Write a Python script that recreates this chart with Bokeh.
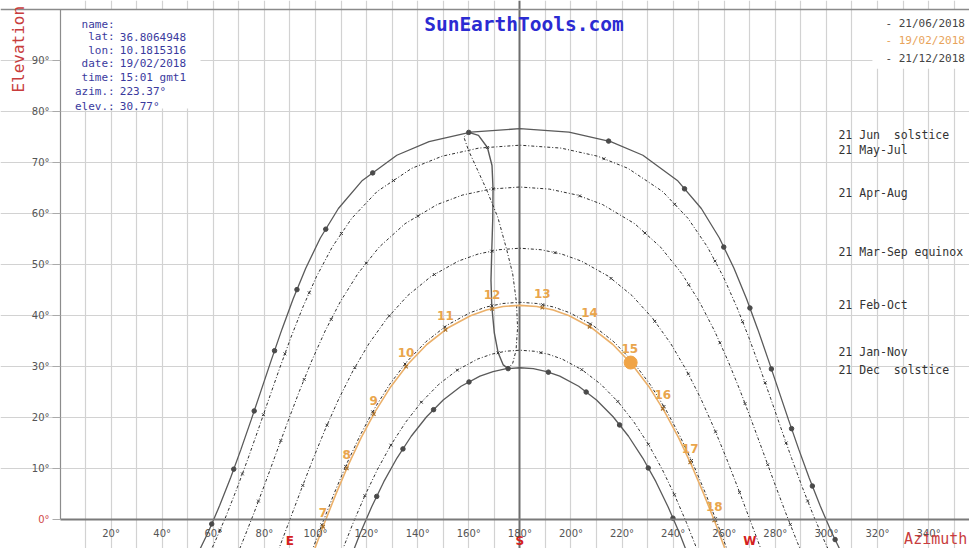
from bokeh.plotting import figure
from bokeh.models import (Range1d, FixedTicker, Label, BoxAnnotation, ColumnDataSource, Grid)
from bokeh.core.properties import value
from bokeh.embed import file_html
from bokeh.resources import INLINE
import math

# ---------------- data (azimuth deg, elevation deg) ----------------
jun_az = [53.25, 58.04, 62.53, 66.78, 70.86, 74.83, 78.76, 82.74, 86.86, 91.28, 96.19, 101.90, 108.97, 118.35, 131.84, 144.45, 160.77, 180.00,
          199.23, 215.55, 228.16, 241.65, 251.03, 258.10, 263.81, 268.72, 273.14, 277.26, 281.24, 285.17, 289.14, 293.22, 297.47, 301.96, 306.75]
jun_el = [-7.41, -2.45, 2.77, 8.19, 13.79, 19.53, 25.37, 31.30, 37.27, 43.27, 49.27, 55.19, 60.97, 66.48, 71.42, 74.10, 75.94, 76.64,
          75.94, 74.10, 71.42, 66.48, 60.97, 55.19, 49.27, 43.27, 37.27, 31.30, 25.37, 19.53, 13.79, 8.19, 2.77, -2.45, -7.41]

mayjul_az = [55.55, 60.44, 65.04, 69.39, 73.59, 77.69, 81.78, 85.96, 90.33, 95.06, 100.35, 106.55, 114.17, 124.10, 137.68, 149.56, 163.92, 180.00,
             196.08, 210.44, 222.32, 235.90, 245.83, 253.45, 259.65, 264.94, 269.67, 274.04, 278.22, 282.31, 286.41, 290.61, 294.96, 299.56, 304.45]
mayjul_el = [-9.72, -4.62, 0.71, 6.25, 11.94, 17.76, 23.66, 29.63, 35.63, 41.63, 47.58, 53.42, 59.04, 64.30, 68.85, 71.23, 72.82, 73.39,
             72.82, 71.23, 68.85, 64.30, 59.04, 53.42, 47.58, 41.63, 35.63, 29.63, 23.66, 17.76, 11.94, 6.25, 0.71, -4.62, -9.72]

apraug_az = [66.62, 71.39, 75.93, 80.34, 84.70, 89.11, 93.66, 98.50, 103.78, 109.73, 116.63, 124.90, 135.06, 147.65, 157.53, 168.46, 180.00,
             191.54, 202.47, 212.35, 224.94, 235.10, 243.37, 250.27, 256.22, 261.50, 266.34, 270.89, 275.30, 279.66, 284.07, 288.61, 293.38]
apraug_el = [-10.08, -4.48, 1.28, 7.16, 13.11, 19.10, 25.10, 31.07, 36.96, 42.71, 48.23, 53.39, 58.00, 61.76, 63.61, 64.78, 65.19,
             64.78, 63.61, 61.76, 58.00, 53.39, 48.23, 42.71, 36.96, 31.07, 25.10, 19.10, 13.11, 7.16, 1.28, -4.48, -10.08]

equi_az = [80.88, 85.49, 90.00, 94.51, 99.12, 103.94, 109.08, 114.69, 120.93, 127.99, 136.07, 145.35, 155.91, 163.60, 171.69, 180.00,
           188.31, 196.40, 204.09, 214.65, 223.93, 232.01, 239.07, 245.31, 250.92, 256.06, 260.88, 265.49, 270.00, 274.51, 279.12]
equi_el = [-11.96, -6.00, 0.00, 6.00, 11.96, 17.84, 23.60, 29.17, 34.48, 39.43, 43.89, 47.70, 50.66, 52.04, 52.89, 53.19,
           52.89, 52.04, 50.66, 47.70, 43.89, 39.43, 34.48, 29.17, 23.60, 17.84, 11.96, 6.00, 0.00, -6.00, -11.96]

feboct_az = [98.52, 102.95, 107.52, 112.31, 117.43, 122.97, 129.05, 135.76, 143.22, 151.45, 160.44, 166.79, 173.34, 180.00,
             186.66, 193.21, 199.56, 208.55, 216.78, 224.24, 230.95, 237.03, 242.57, 247.69, 252.48, 257.05, 261.48]
feboct_el = [-6.33, -0.43, 5.36, 11.01, 16.45, 21.64, 26.50, 30.94, 34.84, 38.08, 40.53, 41.66, 42.35, 42.59,
             42.35, 41.66, 40.53, 38.08, 34.84, 30.94, 26.50, 21.64, 16.45, 11.01, 5.36, -0.43, -6.33]

jannov_az = [110.44, 114.81, 119.41, 124.31, 129.60, 135.32, 141.55, 148.32, 155.64, 163.44, 168.86, 174.40, 180.00,
             185.60, 191.14, 196.56, 204.36, 211.68, 218.45, 224.68, 230.40, 235.69, 240.59, 245.19, 249.56]
jannov_el = [-6.13, -0.59, 4.76, 9.86, 14.66, 19.09, 23.07, 26.52, 29.34, 31.45, 32.40, 32.99, 33.19,
             32.99, 32.40, 31.45, 29.34, 26.52, 23.07, 19.09, 14.66, 9.86, 4.76, -0.59, -6.13]

dec_az = [113.22, 117.47, 121.96, 126.75, 131.90, 137.47, 143.50, 150.00, 156.98, 164.38, 169.50, 174.72, 180.00,
          185.28, 190.50, 195.62, 203.02, 210.00, 216.50, 222.53, 228.10, 233.25, 238.04, 242.53, 246.78]
dec_el = [-8.19, -2.77, 2.45, 7.41, 12.05, 16.32, 20.14, 23.44, 26.12, 28.11, 29.01, 29.56, 29.75,
          29.56, 29.01, 28.11, 26.12, 23.44, 20.14, 16.32, 12.05, 7.41, 2.45, -2.77, -8.19]

feb19_az = [99.00, 103.43, 107.99, 112.77, 117.88, 123.41, 129.47, 136.16, 143.57, 151.75, 160.66, 166.94, 173.42, 180.00,
            186.58, 193.06, 199.34, 208.25, 216.43, 223.84, 230.53, 236.59, 242.12, 247.23, 252.01, 256.57, 261.00]
feb19_el = [-6.68, -0.80, 4.98, 10.61, 16.04, 21.20, 26.04, 30.44, 34.31, 37.53, 39.96, 41.07, 41.76, 41.99,
            41.76, 41.07, 39.96, 37.53, 34.31, 30.44, 26.04, 21.20, 16.04, 10.61, 4.98, -0.80, -6.68]

# analemma at 12:00 (Jan-Jun solid, Jul-Dec dotted)
ana1_az = [175.41, 173.50, 171.50, 170.00, 169.00, 168.70, 169.00, 169.40, 169.50, 169.10, 167.30, 163.80, 160.00]
ana1_el = [29.58, 30.31, 32.68, 36.60, 41.90, 46.90, 52.61, 59.10, 64.82, 69.40, 72.94, 75.30, 75.90]
ana2_az = [160.00, 158.10, 159.90, 163.00, 167.00, 171.40, 174.80, 177.20, 178.67, 179.10, 178.50, 177.20, 175.41]
ana2_el = [75.90, 74.96, 72.37, 69.00, 64.63, 59.20, 53.00, 48.15, 42.54, 37.60, 33.14, 30.63, 29.58]

# hourly positions (solid curves)
jun_hour_az = [59.38, 68.00, 76.01, 83.98, 92.75, 104.02, 122.40, 160.00, 214.73, 244.46, 259.81, 270.05, 278.45, 286.36, 294.49, 303.40]
jun_hour_el = [-0.88, 9.87, 21.28, 33.09, 45.07, 56.92, 67.96, 75.90, 74.19, 64.83, 53.41, 41.47, 29.52, 17.81, 6.56, -3.94]
dec_hour_az = [123.97, 134.24, 146.23, 160.09, 175.41, 191.17, 205.95, 219.03, 230.26, 239.93]
dec_hour_el = [4.53, 13.84, 21.53, 26.96, 29.58, 28.89, 24.99, 18.54, 10.10, 0.26]

# hourly positions (dotted curves)
mayjul_hour_az = [62.62, 71.38, 79.62, 88.03, 97.56, 110.15, 130.52, 167.30, 212.93, 240.60, 256.38, 267.18, 276.02, 284.25, 292.67]
mayjul_hour_el = [-2.10, 8.94, 20.55, 32.47, 44.44, 56.08, 66.45, 72.94, 70.73, 61.81, 50.66, 38.79, 26.81, 15.01, 3.63]
apraug_hour_az = [77.68, 86.45, 95.58, 106.14, 119.90, 140.05, 169.54, 203.40, 228.96, 246.10, 258.31, 268.14, 277.03, 285.87]
apraug_hour_el = [3.61, 15.48, 27.46, 39.24, 50.27, 59.49, 64.82, 63.44, 56.17, 46.04, 34.63, 22.72, 10.75, -0.96]
equi_hour_az = [95.03, 104.52, 115.40, 128.90, 146.54, 169.02, 193.73, 215.70, 232.81, 245.94, 256.60, 266.00]
equi_hour_el = [6.67, 18.49, 29.77, 39.93, 48.03, 52.61, 52.32, 47.27, 38.87, 28.54, 17.18, 5.32]
feboct_hour_az = [102.49, 111.81, 122.39, 135.06, 150.59, 169.04, 188.91, 207.61, 223.46, 236.40, 247.16, 256.57]
feboct_hour_el = [-1.04, 10.42, 21.10, 30.48, 37.74, 41.90, 42.11, 38.33, 31.35, 22.15, 11.58, 0.17]
jannov_hour_az = [119.33, 129.51, 141.44, 155.52, 171.49, 188.23, 204.23, 218.33, 230.30, 240.50]
jannov_hour_el = [4.67, 14.58, 23.00, 29.29, 32.68, 32.71, 29.38, 23.13, 14.74, 4.85]

feb19_hours = ["7", "8", "9", "10", "11", "12", "13", "14", "15", "16", "17", "18"]
feb19_hour_az = [102.96, 112.26, 122.82, 135.45, 150.88, 169.14, 188.78, 207.30, 223.05, 235.94, 246.68, 256.08]
feb19_hour_el = [-1.43, 10.01, 20.65, 29.97, 37.19, 41.30, 41.53, 37.79, 30.85, 21.72, 11.19, -0.18]
now_az = [223.37]
now_el = [30.77]

# axes ticks / labels
az_ticks = [20, 40, 60, 80, 100, 120, 140, 160, 180, 200, 220, 240, 260, 280, 300, 320, 340]
az_tick_labels = ["20°", "40°", "60°", "80°", "100°", "120°", "140°", "160°", "180°", "200°", "220°",
                  "240°", "260°", "280°", "300°", "320°", "340°"]
el_ticks = [0, 10, 20, 30, 40, 50, 60, 70, 80, 90]
el_tick_labels = ["", "10°", "20°", "30°", "40°", "50°", "60°", "70°", "80°", "90°"]
zero_label = ["0°"]
grid_az = [10, 20, 30, 40, 50, 60, 70, 80, 90, 100, 110, 120, 130, 140, 150, 160, 170, 190, 200, 210, 220, 230, 240,
           250, 260, 270, 280, 290, 300, 310, 320, 330, 340, 350]
grid_el = [10, 20, 30, 40, 50, 60, 70, 80, 90]
south = [180]
top_edge = [99.9]

# curve labels on right
season_labels = ["21 Jun\u00a0\u00a0solstice", "21 May-Jul", "21 Apr-Aug", "21 Mar-Sep equinox", "21 Feb-Oct",
                 "21 Jan-Nov", "21 Dec\u00a0\u00a0solstice"]
season_label_el = [75.3, 72.5, 64.1, 52.4, 42.0, 32.8, 29.35]

info_keys = ["name:", "lat:", "lon:", "date:", "time:", "azim.:", "elev.:"]
info_vals = ["", "36.8064948", "10.1815316", "19/02/2018", "15:01 gmt1", "223.37°", "30.77°"]
info_el = [97.1, 94.7, 92.0, 89.4, 86.7, 83.9, 81.0]

legend_texts = ["- 21/06/2018", "- 19/02/2018", "- 21/12/2018"]
legend_colors = ["#444444", "#e8a35a", "#444444"]
legend_el = [97.25, 93.9, 90.4]

compass = ["E", "S", "W"]
compass_az = [90, 180, 270]

MONO = "DejaVu Sans Mono"
SANS = "DejaVu Sans"
RED = "#c83c3c"
ORANGE = "#e9a54c"
AZ_MIN, AZ_MAX = 0.2, 356.0

p = figure(width=969, height=548, x_range=Range1d(-23.29, AZ_MAX), y_range=Range1d(-5.69, 101.76),
           output_backend="svg", toolbar_location=None,
           min_border_left=0, min_border_right=0, min_border_top=0, min_border_bottom=0)
p.outline_line_color = None
p.background_fill_color = "white"
p.border_fill_color = "white"

# grid
p.xgrid.ticker = FixedTicker(ticks=grid_az)
p.ygrid.ticker = FixedTicker(ticks=grid_el)
p.xgrid.bounds = (-6.0, 100)
p.ygrid.bounds = (AZ_MIN, AZ_MAX)
p.xgrid.grid_line_color = "#d2d2d2"
p.ygrid.grid_line_color = "#d2d2d2"
p.xgrid.grid_line_width = 1.2
p.ygrid.grid_line_width = 1.2

# x axis at elevation 0
xa = p.xaxis[0]
xa.ticker = FixedTicker(ticks=az_ticks)
xa.major_label_overrides = dict(zip(az_ticks, az_tick_labels))
xa.fixed_location = 0
xa.bounds = (AZ_MIN, AZ_MAX)
xa.axis_line_color = "#7a7a7a"
xa.axis_line_width = 2
xa.major_tick_line_color = None
xa.minor_tick_line_color = None
xa.major_label_standoff = 3
xa.major_label_text_font = SANS
xa.major_label_text_font_size = "10px"
xa.major_label_text_color = "#555555"

# y axis pinned to azimuth 0
ya = p.yaxis[0]
ya.ticker = FixedTicker(ticks=el_ticks)
ya.major_label_overrides = dict(zip(el_ticks, el_tick_labels))
ya.fixed_location = AZ_MIN
ya.bounds = (0, 100)
ya.axis_line_color = "#8c8c8c"
ya.axis_line_width = 1.2
ya.major_tick_out = 8
ya.major_tick_in = 0
ya.major_tick_line_color = "#aaaaaa"
ya.minor_tick_line_color = None
ya.major_label_standoff = 3
ya.major_label_text_font = SANS
ya.major_label_text_font_size = "10px"
ya.major_label_text_color = "#555555"

# white boxes behind info and legend
p.add_layout(BoxAnnotation(left=AZ_MIN, right=55, bottom=80.6, top=100, fill_color="white", fill_alpha=1.0,
                           line_color=None, level="underlay"))
p.add_layout(BoxAnnotation(left=318.0, right=AZ_MAX, bottom=88.4, top=100, fill_color="white", fill_alpha=1.0,
                           line_color=None, level="underlay"))
# south line (only above the horizon) and top edge
p.add_layout(Grid(dimension=0, ticker=FixedTicker(ticks=south), bounds=(0, 100),
                  grid_line_color="#6e6e6e", grid_line_width=2))
p.add_layout(Grid(dimension=1, ticker=FixedTicker(ticks=top_edge), bounds=(AZ_MIN, AZ_MAX),
                  grid_line_color="#8a8a8a", grid_line_width=1.5))

# curves
DOT = "3 2 1 2"
p.line(jun_az, jun_el, line_color="#5a5a5a", line_width=1.3)
p.line(dec_az, dec_el, line_color="#5a5a5a", line_width=1.3)
for az, el in [(mayjul_az, mayjul_el), (apraug_az, apraug_el), (equi_az, equi_el),
               (feboct_az, feboct_el), (jannov_az, jannov_el)]:
    p.line(az, el, line_color="#2e2e2e", line_width=1.0, line_dash=DOT)
p.line(ana1_az, ana1_el, line_color="#5a5a5a", line_width=1.4)
p.line(ana2_az, ana2_el, line_color="#2e2e2e", line_width=1.0, line_dash=DOT)
p.line(feb19_az, feb19_el, line_color="#ebb06a", line_width=1.6)

for az, el in [(mayjul_hour_az, mayjul_hour_el), (apraug_hour_az, apraug_hour_el), (equi_hour_az, equi_hour_el),
               (feboct_hour_az, feboct_hour_el), (jannov_hour_az, jannov_hour_el)]:
    p.scatter(az, el, marker="x", size=4, line_color="#333333", line_width=1.0)

p.scatter(jun_hour_az, jun_hour_el, size=4.5, color="#4a4a4a")
p.scatter(dec_hour_az, dec_hour_el, size=4.5, color="#4a4a4a")
p.scatter(feb19_hour_az, feb19_hour_el, marker="x", size=5, line_color="#a8702a", line_width=1.2)
p.scatter(now_az, now_el, size=13, fill_color="#f0a446", line_color="#f0a446")

hsrc = ColumnDataSource(dict(x=feb19_hour_az, y=feb19_hour_el, t=feb19_hours))
p.text(x="x", y="y", text="t", source=hsrc, y_offset=-14, text_align="center", text_baseline="middle",
       text_font=value(SANS), text_font_style="bold", text_font_size=value("12px"), text_color=ORANGE)

# season labels
ssrc = ColumnDataSource(dict(x=[304.7] * len(season_labels), y=season_label_el, t=season_labels))
p.text(x="x", y="y", text="t", source=ssrc, text_align="left", text_baseline="middle",
       text_font=value(MONO), text_font_size=value("11.5px"), text_color="#333333")

# info box
isrc = ColumnDataSource(dict(x=[21.4] * 7, y=info_el, t=info_keys))
p.text(x="x", y="y", text="t", source=isrc, text_align="right", text_baseline="middle",
       text_font=value(MONO), text_font_size=value("11px"), text_color="#3a3a9e")
vsrc = ColumnDataSource(dict(x=[23.4] * 7, y=info_el, t=info_vals))
p.text(x="x", y="y", text="t", source=vsrc, text_align="left", text_baseline="middle",
       text_font=value(MONO), text_font_size=value("11px"), text_color="#3a3a9e")

# legend
lsrc = ColumnDataSource(dict(x=[323.1] * 3, y=legend_el, t=legend_texts, c=legend_colors))
p.text(x="x", y="y", text="t", source=lsrc, text_color="c", text_align="left", text_baseline="middle",
       text_font=value(MONO), text_font_size=value("11px"))

# compass letters
csrc = ColumnDataSource(dict(x=compass_az, y=[-5.55] * 3, t=compass))
p.text(x="x", y="y", text="t", source=csrc, text_align="center", text_baseline="bottom",
       text_font=value(SANS), text_font_style="bold", text_font_size=value("12px"), text_color="#d42020")

# red 0° label at the origin of the elevation axis
zsrc = ColumnDataSource(dict(x=[AZ_MIN], y=[0], t=zero_label))
p.text(x="x", y="y", text="t", source=zsrc, x_offset=-11, text_align="right", text_baseline="middle",
       text_font=value(SANS), text_font_size=value("10px"), text_color="#d04848")

p.add_layout(Label(x=330.4, y=-5.5, text="Azimuth", text_align="left", text_baseline="bottom",
                   text_font=MONO, text_font_size="15px", text_color=RED))
p.add_layout(Label(x=-16.05, y=92.2, text="Elevation", angle=math.pi / 2, text_align="center",
                   text_baseline="middle", text_font=MONO, text_font_size="16px", text_color=RED))
p.add_layout(Label(x=181.6, y=97.0, text="SunEarthTools.com", text_align="center", text_baseline="middle",
                   text_font=MONO, text_font_style="bold", text_font_size="19.5px", text_color="#2b2bd2"))

open("out.html", "w").write(file_html(p, INLINE))
